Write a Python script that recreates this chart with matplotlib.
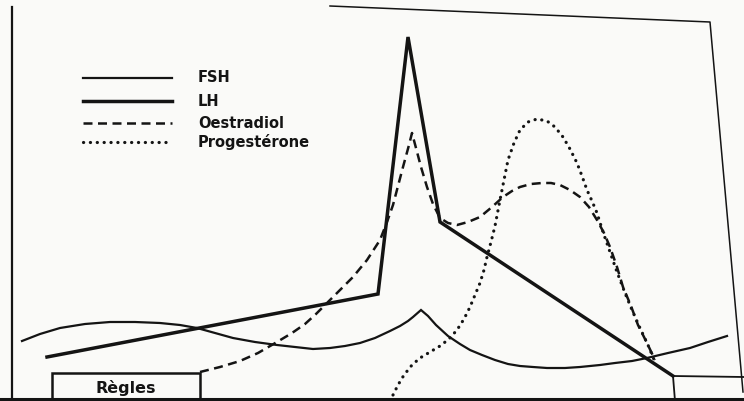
import matplotlib.pyplot as plt

# values (x: position in the cycle, y: level, drawn top-down)
lh_x = [47, 378, 408, 440, 673]
lh_y = [357, 294, 37, 222, 376]

fsh_x = [22, 40, 60, 85, 110, 135, 160, 180, 197, 215, 233, 255, 277, 295, 313,
         330, 345, 360, 375, 390, 400, 408, 413, 421,
         428, 436, 448, 460, 470, 482, 495, 508, 520, 533, 547, 565, 580, 600,
         615, 632, 647, 668, 690, 708, 727]
fsh_y = [341, 334, 328, 324, 322, 322, 323, 325, 328, 333, 338, 342, 345, 347, 349,
         348, 346, 343, 338, 331, 326, 321, 317, 310,
         316, 325, 336, 344, 350, 355, 360, 364, 366, 367, 368, 368, 367, 365,
         363, 361, 358, 353, 348, 342, 336]

oes_x = [200, 220, 240, 258, 277, 292, 305, 316, 327, 340, 353, 367, 380, 387,
         393, 398, 403, 409, 412, 416, 421, 427, 433, 440, 448, 457, 468, 480,
         492, 503, 512, 520, 531, 542, 551, 560, 570, 580, 589, 597, 604, 610,
         617, 623, 631, 638, 647, 655]
oes_y = [372, 367, 361, 353, 342, 333, 324, 314, 303, 290, 277, 260, 240, 222,
         205, 186, 167, 145, 133, 148, 167, 187, 204, 218, 223, 225, 222, 217,
         207, 197, 191, 187, 184, 183, 183, 185, 190, 197, 207, 220, 233, 247,
         267, 287, 306, 325, 343, 360]

pro_x = [393, 398, 404, 412, 420, 430, 440, 449, 457, 464, 470, 475, 480, 484,
         487, 491, 495, 500, 504, 508, 514, 520, 528, 537, 547, 555, 563, 570,
         577, 582, 587, 592, 597, 603, 610, 617, 625, 632, 640, 648, 655]
pro_y = [395, 385, 375, 365, 358, 352, 346, 339, 330, 319, 307, 295, 283, 270,
         257, 242, 226, 200, 180, 160, 143, 130, 122, 119, 121, 127, 137, 149,
         163, 176, 190, 201, 213, 232, 252, 272, 293, 310, 328, 345, 362]

labels = ['FSH', 'LH', 'Oestradiol', 'Progestérone']
legend_y = [78, 101, 123, 142]

ink = '#141414'
styles = {
    'FSH': dict(lw=1.6, ls='-'),
    'LH': dict(lw=2.5, ls='-'),
    'Oestradiol': dict(lw=1.8, ls=(0, (3.6, 2.2))),
    'Progestérone': dict(lw=2.3, ls=(0, (0.05, 2.1)), dash_capstyle='round'),
}
series = {
    'FSH': (fsh_x, fsh_y),
    'LH': (lh_x, lh_y),
    'Oestradiol': (oes_x, oes_y),
    'Progestérone': (pro_x, pro_y),
}

fig = plt.figure(figsize=(7.44, 4.01), dpi=100)
fig.patch.set_facecolor('#fafaf8')
ax = fig.add_axes([0, 0, 1, 1])
ax.set_xlim(0, 744)
ax.set_ylim(401, 0)
ax.axis('off')

# page frame from the photo
ax.plot([12, 12], [7, 401], color=ink, lw=1.6)
ax.plot([330, 710, 743], [6, 22, 392], color=ink, lw=1.1)
ax.plot([0, 744], [399, 399], color=ink, lw=2.2)
ax.plot([673, 675], [376, 401], color=ink, lw=1.3)
ax.plot([673, 744], [376, 377], color=ink, lw=1.3)

# curves
for name in labels:
    xs, ys = series[name]
    ax.plot(xs, ys, color=ink, solid_joinstyle='miter', **styles[name])

# hand-drawn legend
for name, ly in zip(labels, legend_y):
    ax.plot([83, 172], [ly, ly], color=ink, **styles[name])
    ax.text(198, ly, name, fontsize=10.5, fontweight='bold', color=ink,
            va='center', ha='left', family='DejaVu Sans')

# "Règles" box
ax.add_patch(plt.Rectangle((52, 373), 148, 27, fill=False, ec=ink, lw=1.8))
ax.text(126, 388, 'Règles', fontsize=11.5, fontweight='bold', color=ink,
        ha='center', va='center', family='DejaVu Sans')

fig.savefig('out.png', dpi=100, facecolor=fig.get_facecolor())
